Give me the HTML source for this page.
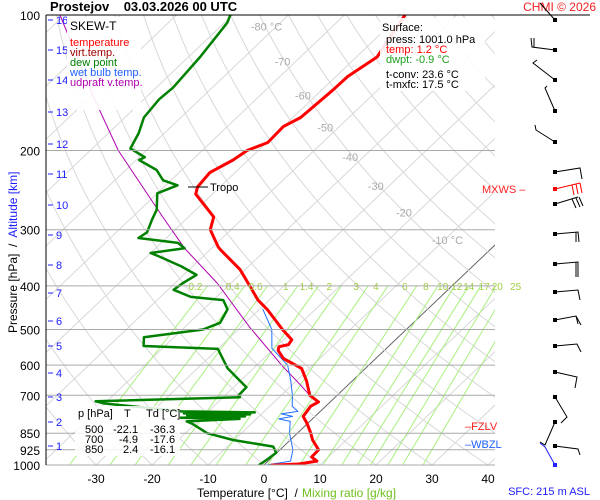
<!DOCTYPE html>
<html><head><meta charset="utf-8"><style>
html,body{margin:0;padding:0;background:#fff;}
svg{display:block;font-family:"Liberation Sans",sans-serif;}
</style></head><body>
<svg id="chart" width="600" height="500" viewBox="0 0 600 500" xmlns="http://www.w3.org/2000/svg">
<defs><clipPath id="plotclip"><rect x="46" y="15" width="449" height="450"/></clipPath></defs>
<rect x="0" y="0" width="600" height="500" fill="#fff"/>
<text x="50" y="11" font-size="13" font-weight="bold" style="white-space:pre">Prostejov    03.03.2026 00 UTC</text>
<text x="596" y="11" font-size="12" fill="#f02020" text-anchor="end">CHMI © 2026</text>
<g id="grid" clip-path="url(#plotclip)"></g>
<g id="series" clip-path="url(#plotclip)"></g>
<g id="labels"></g>
<line x1="46" y1="15" x2="590" y2="15" stroke="#000" stroke-width="1"/>
<line x1="46" y1="15" x2="46" y2="465" stroke="#000" stroke-width="1"/>
<g font-size="11">
<rect x="67" y="17" width="74" height="93" fill="#fff" opacity="0.9"/>
<text x="70" y="30" font-size="12" fill="#000">SKEW-T</text>
<text x="70" y="46" fill="#ff0000">temperature</text>
<text x="70" y="56" fill="#a00000">virt.temp.</text>
<text x="70" y="66" fill="#008000">dew point</text>
<text x="70" y="76" fill="#2060ff">wet bulb temp.</text>
<text x="70" y="86" fill="#b000b0">udpraft v.temp.</text>
</g>
<g font-size="11">
<rect x="380" y="18" width="105" height="73" fill="#fff" opacity="0.9"/>
<text x="382" y="31">Surface:</text>
<text x="386" y="43">press: 1001.0 hPa</text>
<text x="386" y="53" fill="#ff0000">temp: 1.2 °C</text>
<text x="386" y="63" fill="#20a020">dwpt: -0.9 °C</text>
<text x="386" y="78">t-conv: 23.6 °C</text>
<text x="386" y="88">t-mxfc: 17.5 °C</text>
</g>
<g font-size="11">
<rect x="75" y="406" width="105" height="50" fill="#fff" opacity="0.85"/>
<text x="78" y="417">p [hPa]</text><text x="124" y="417">T</text><text x="146" y="417">Td [°C]</text>
<text x="85" y="433">500</text><text x="113" y="433">-22.1</text><text x="150" y="433">-36.3</text>
<text x="85" y="443">700</text><text x="119" y="443">-4.9</text><text x="150" y="443">-17.6</text>
<text x="85" y="453">850</text><text x="123" y="453">2.4</text><text x="150" y="453">-16.1</text>
</g>
<g>
<line x1="188" y1="187" x2="208" y2="187" stroke="#000" stroke-width="1"/>
<text x="210" y="191" font-size="11">Tropo</text>
</g>
<text x="482" y="193" font-size="11" fill="#ff2020">MXWS –</text>
<text x="465" y="430" font-size="11" fill="#ff2020">–FZLV</text>
<text x="465" y="448" font-size="11" fill="#2060ff">–WBZL</text>
<text x="590" y="495" font-size="11" fill="#2020ff" text-anchor="end">SFC: 215 m ASL</text>
<text x="197" y="497" font-size="12" style="white-space:pre">Temperature [°C]  /</text>
<text x="302" y="497" font-size="12" fill="#70c020">Mixing ratio [g/kg]</text>
<text transform="translate(17,333) rotate(-90)" font-size="12" style="white-space:pre"><tspan fill="#000">Pressure [hPa]  /  </tspan><tspan fill="#2020ff">Altitude [km]</tspan></text>
<g fill="none" stroke="#000" stroke-width="1">
<path d="M555,20 L540,3"/>
<path d="M555,50 L532,47 L531,38 M534,47 L534,38"/>
<path d="M555,80 L533,63 L537,60"/>
<path d="M555,111 L545,88 L547,86"/>
<path d="M555,142 L536,130 L535,125"/>
<path d="M555,172 L580,168 L582,179"/>
<path stroke="#ff0000" d="M555,189 L580,183 M572,185 L574,195 M576,184 L578,194 M580,183 L582,193"/>
<path d="M555,204 L578,197 M572,199 L576,208 M576,198 L580,207 M579,197 L583,206"/>
<path d="M555,234 L578,232 L579,242 M576,232 L576,242"/>
<path d="M555,264 L578,262 L578,277 M576,262 L576,277"/>
<path d="M555,292 L578,290 L580,300"/>
<path d="M555,320 L576,316 L581,325 M576,316 L578,324"/>
<path d="M555,346 L577,344 L581,352"/>
<path d="M555,372 L577,377 L575,388"/>
<path d="M555,397 L567,417 L561,423"/>
<path d="M555,422 L545,445 L540,442"/>
<path d="M555,446 L578,449 L580,455"/>
<path stroke="#2020ff" d="M555,465 L545,447 L540,443"/>
</g>
<g fill="#000">
<rect x="553" y="18" width="4" height="4"/><rect x="553" y="48" width="4" height="4"/><rect x="553" y="78" width="4" height="4"/><rect x="553" y="109" width="4" height="4"/><rect x="553" y="140" width="4" height="4"/><rect x="553" y="170" width="4" height="4"/><rect x="553" y="187" width="4" height="4" fill="#f00"/><rect x="553" y="202" width="4" height="4"/><rect x="553" y="232" width="4" height="4"/><rect x="553" y="262" width="4" height="4"/><rect x="553" y="290" width="4" height="4"/><rect x="553" y="318" width="4" height="4"/><rect x="553" y="344" width="4" height="4"/><rect x="553" y="370" width="4" height="4"/><rect x="553" y="395" width="4" height="4"/><rect x="553" y="420" width="4" height="4"/><rect x="553" y="444" width="4" height="4"/><rect x="553" y="463" width="4" height="4" fill="#22f"/>
</g>
<script>
// ---- data ----
const tempP=[100,124,137,147,169,177,192,200,210,224,241,250,281,300,328,333,368,408,430,451,500,527,540,546,556,580,610,650,700,724,740,780,810,850,880,925,960,980,995,1001];
const tempT=[-59.2,-56.3,-57.9,-58,-58.6,-60,-59.8,-62,-62.7,-64.5,-64,-63,-55.5,-53.7,-49,-48,-40.9,-35,-32,-28.6,-22.1,-18.5,-18.2,-19.5,-19,-16.5,-11.4,-8.2,-4.9,-2.1,-2.7,-2.1,0,2.4,4,6.9,7,8.7,6,1.2];
const dewP=[100,104,124,145,154,169,183,198,207,210,221,233,239,249,271,285,304,313,321,330,338,345,362,378,394,408,423,430,451,483,500,520,544,552,590,610,672,700,707,722,730,760,764,768,772,776,780,785,790,800,810,850,880,910,940,980,1001];
const dewT=[-90.4,-89.5,-87.9,-87,-87.3,-86.6,-84.6,-83.2,-79,-79.5,-74.5,-71.4,-67.9,-70,-67,-66,-64.5,-65,-57,-54.8,-60,-57.5,-52,-47.7,-48.6,-49,-44.6,-38.2,-35.7,-34.5,-36.3,-45.4,-43.8,-30,-26.4,-24.6,-17.7,-17.6,-17,-42,-40,-24.8,-11.5,-24,-12,-23,-12.5,-24,-13,-22,-20.5,-16.1,-10.2,-1.8,-0.1,-0.6,-0.9];
const wbP=[450,500,550,600,650,700,740,760,770,780,790,800,850,925,980,1001];
const wbT=[-29.5,-24,-20.5,-14.5,-11,-8,-6,-4,-6.5,-4,-6,-3.5,-1.4,2.3,4,0.2];
const updP=[100,154,200,281,330,394,494,605,660,700];
const updT=[-120.8,-98.8,-85,-64.6,-54.8,-42.5,-28.4,-15,-8.9,-4.9];
const pressureTicks=[100,200,300,400,500,600,700,850,925,1000];
const tempTicks=[-30,-20,-10,0,10,20,30,40];
const isoLabels=[-80,-70,-60,-50,-40,-30,-20,-10];
const isoLabelP=[106,127,151,178,207,240,275,316];
const mixRatios=[0.2,0.4,0.6,1,1.4,2,3,4,6,8,10,12,14,17,20,25];
const kmTicks=[1,2,3,4,5,6,7,8,9,10,11,12,13,14,15,16];
const kmY=[446,422,397,373,346,321,293,265,235,205,174,144,112,80,50,20];

// ---- axes ----
const NS='http://www.w3.org/2000/svg';
function yOf(p){return 15+450*Math.log10(p/100);}
function xOf(t,p){return 264+5.6*t+1.05*(465-yOf(p));}
function el(tag,attrs,parent){const e=document.createElementNS(NS,tag);for(const k in attrs)e.setAttribute(k,attrs[k]);parent.appendChild(e);return e;}
const grid=document.getElementById('grid'),series=document.getElementById('series'),labels=document.getElementById('labels');

for(let t=-140;t<=40;t+=10){
  const ln=el('line',{x1:xOf(t,1050),y1:yOf(1050),x2:xOf(t,95),y2:yOf(95),stroke:t===0?'#666':'#d8d8d8','stroke-width':1},grid);
  
  
}
for(let th=-40;th<=220;th+=10){
  let d='';
  for(let p=1050;p>=95;p-=10){const T=(th+273.15)*Math.pow(p/1000,0.286)-273.15;d+=(d?'L':'M')+xOf(T,p).toFixed(1)+','+yOf(p).toFixed(1);}
  const pa=el('path',{d:d,fill:'none',stroke:'#d8d8d8','stroke-width':1},grid);
  
  
}
function tdW(w,p){const e=w*p/(622+w);const l=Math.log(e/6.112);return 243.5*l/(17.67-l);}
mixRatios.forEach(w=>{
  const ln=el('line',{x1:xOf(tdW(w,1020),1020),y1:yOf(1020),x2:xOf(tdW(w,400),400),y2:yOf(400),stroke:'#a8f080','stroke-width':1},grid);
  
  
  const tx=el('text',{x:xOf(tdW(w,400),400)-12,y:yOf(400)+4,'font-size':10,fill:'#a0d040','text-anchor':'middle'},labels);
  tx.textContent=String(w);
  
  
});
pressureTicks.forEach(p=>{
  if(p>100){const ln=el('line',{x1:46,y1:yOf(p),x2:495,y2:yOf(p),stroke:'#aaa','stroke-width':1},labels);
  
  }
  const tx=el('text',{x:40,y:yOf(p)+5,'font-size':12,'text-anchor':'end'},labels);
  tx.textContent=String(p);
  
  
});
tempTicks.forEach(t=>{
  const tx=el('text',{x:xOf(t,1000),y:483,'font-size':12,'text-anchor':'middle'},labels);
  tx.textContent=String(t);
  
  
});
isoLabels.forEach((t,i)=>{
  const p=isoLabelP[i];
  const withUnit=(i===0||i===isoLabels.length-1);
  const off=withUnit?(i===0?-10:3):-13;
  const tx=el('text',{x:xOf(t,p)+off,y:yOf(p)+4,'font-size':11,fill:'#aaa','text-anchor':'middle'},labels);
  tx.textContent=withUnit?t+' °C':String(t);
  
  
});
kmTicks.forEach((k,i)=>{
  const ln=el('line',{x1:48,y1:kmY[i],x2:53,y2:kmY[i],stroke:'#2020ff','stroke-width':1},labels);
  
  
  const tx=el('text',{x:56,y:kmY[i]+4,'font-size':11,fill:'#2020ff'},labels);
  tx.textContent=String(k);
  
  
});
function line(P,T,color,w,name){
  let d='';P.forEach((p,i)=>{d+=(i?'L':'M')+xOf(T[i],p).toFixed(1)+','+yOf(p).toFixed(1);});
  const pa=el('path',{d:d,fill:'none',stroke:color,'stroke-width':w,'stroke-linejoin':'round'},series);
  
  
}
line(updP,updT,'#b000b0',1,'updraft-line');
line(dewP,dewT,'#008000',2.5,'dew-point-line');
line(wbP,wbT,'#2070ff',1,'wet-bulb-line');
line(tempP,tempT,'#ff0000',3,'temperature-line');
</script>
</svg>
</body></html>
